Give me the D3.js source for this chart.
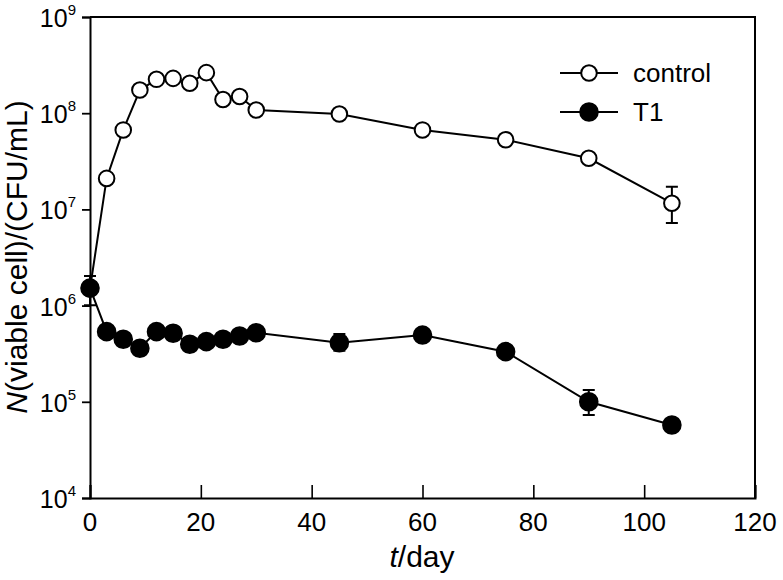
<!DOCTYPE html>
<html>
<head>
<meta charset="utf-8">
<script src="https://cdn.jsdelivr.net/npm/d3@7/dist/d3.min.js"></script>
<style>
  html, body { margin: 0; padding: 0; background: #fff; }
  svg { display: block; }
  text { font-family: "Liberation Sans", Arial, sans-serif; fill: #000; }
</style>
</head>
<body>
<svg id="chart" width="783" height="580"></svg>
<script>
// ---- data ----
const days = [0, 3, 6, 9, 12, 15, 18, 21, 24, 27, 30, 45, 60, 75, 90, 105];
const controlValues = [1.5e6, 2.1e7, 6.7e7, 1.74e8, 2.25e8, 2.3e8, 2.05e8, 2.64e8, 1.39e8, 1.49e8, 1.08e8, 9.8e7, 6.7e7, 5.3e7, 3.4e7, 1.16e7];
const controlLow  = [null, null, null, null, null, null, null, null, null, null, null, null, null, null, null, 7.2e6];
const controlHigh = [null, null, null, null, null, null, null, null, null, null, null, null, null, null, null, 1.72e7];
const t1Values = [1.52e6, 5.36e5, 4.47e5, 3.6e5, 5.36e5, 5.16e5, 3.96e5, 4.22e5, 4.47e5, 4.83e5, 5.22e5, 4.11e5, 4.94e5, 3.32e5, 1.0e5, 5.74e4];
const t1Low  = [1.01e6, null, null, null, null, 4.4e5, null, null, null, null, null, 3.4e5, null, null, 7.3e4, null];
const t1High = [2.03e6, null, null, null, null, 6.04e5, null, null, null, null, null, 5.07e5, null, null, 1.33e5, null];
const seriesNames = ["control", "T1"];
const xTicks = [0, 20, 40, 60, 80, 100, 120];
const yTickExps = [4, 5, 6, 7, 8, 9];

// ---- layout ----
const svg = d3.select("#chart");
const mLeft = 90, mRight = 755, mTop = 17, mBottom = 498;
const x = d3.scaleLinear().domain([0, 120]).range([mLeft, mRight]);
const y = d3.scaleLog().domain([1e4, 1e9]).range([mBottom, mTop]);

// frame (top + right)
svg.append("path")
  .attr("d", `M${mLeft},${mTop}H${mRight}V${mBottom}`)
  .attr("fill", "none").attr("stroke", "#000").attr("stroke-width", 2);

// x axis: ticks inward
const xAxis = svg.append("g").attr("transform", `translate(0,${mBottom})`)
  .call(d3.axisTop(x).tickValues(xTicks).tickSize(13).tickFormat(""));
xAxis.select(".domain").attr("stroke-width", 2);
xAxis.selectAll(".tick line").attr("stroke-width", 1.6);
svg.append("g").selectAll("text").data(xTicks).join("text")
  .attr("x", d => x(d)).attr("y", 531)
  .attr("text-anchor", "middle").attr("font-size", 26)
  .text(d => d);

// y axis: ticks outward
const yAxis = svg.append("g").attr("transform", `translate(${mLeft},0)`)
  .call(d3.axisLeft(y).tickValues(yTickExps.map(e => Math.pow(10, e))).tickSize(8).tickFormat(""));
yAxis.select(".domain").attr("stroke-width", 2);
yAxis.selectAll(".tick line").attr("stroke-width", 1.8);
const yl = svg.append("g").selectAll("text").data(yTickExps).join("text")
  .attr("x", 76).attr("y", d => y(Math.pow(10, d)) + 10)
  .attr("text-anchor", "end").attr("font-size", 25);
yl.append("tspan").text("10");
yl.append("tspan").attr("font-size", 15).attr("dy", -12).text(d => d);

// axis titles
const xt = svg.append("text").attr("x", 422).attr("y", 567)
  .attr("text-anchor", "middle").attr("font-size", 30);
xt.append("tspan").attr("font-style", "italic").text("t");
xt.append("tspan").text("/day");

const yt = svg.append("text").attr("transform", "translate(27,257) rotate(-90)")
  .attr("text-anchor", "middle").attr("font-size", 30);
yt.append("tspan").attr("font-style", "italic").text("N");
yt.append("tspan").text("(viable cell)/(CFU/mL)");

// ---- series ----
const line = d3.line().x(d => x(d.x)).y(d => y(d.v));
function drawSeries(vals, lows, highs, filled, r) {
  const pts = days.map((d, i) => ({x: d, v: vals[i], lo: lows[i], hi: highs[i]}));
  const g = svg.append("g");
  g.append("path").datum(pts).attr("d", line)
    .attr("fill", "none").attr("stroke", "#000").attr("stroke-width", 2);
  const eb = pts.filter(p => p.lo != null);
  const cap = 6;
  g.selectAll("path.eb").data(eb).join("path").attr("class", "eb")
    .attr("d", p => `M${x(p.x)},${y(p.lo)}V${y(p.hi)}M${x(p.x)-cap},${y(p.lo)}H${x(p.x)+cap}M${x(p.x)-cap},${y(p.hi)}H${x(p.x)+cap}`)
    .attr("stroke", "#000").attr("stroke-width", 2).attr("fill", "none");
  g.selectAll("circle").data(pts).join("circle")
    .attr("cx", p => x(p.x)).attr("cy", p => y(p.v)).attr("r", r)
    .attr("fill", filled ? "#000" : "#fff").attr("stroke", "#000").attr("stroke-width", 2);
}
drawSeries(controlValues, controlLow, controlHigh, false, 7.8);
drawSeries(t1Values, t1Low, t1High, true, 8.8);

// ---- legend ----
const legY = [73, 112];
const lg = svg.append("g");
seriesNames.forEach((name, i) => {
  lg.append("line").attr("x1", 560).attr("x2", 618).attr("y1", legY[i]).attr("y2", legY[i])
    .attr("stroke", "#000").attr("stroke-width", 2);
  lg.append("circle").attr("cx", 589).attr("cy", legY[i]).attr("r", i === 0 ? 7.8 : 8.8)
    .attr("fill", i === 0 ? "#fff" : "#000").attr("stroke", "#000").attr("stroke-width", 2);
  lg.append("text").attr("x", 633).attr("y", legY[i] + 9).attr("font-size", 26).text(name);
});
</script>
</body>
</html>
